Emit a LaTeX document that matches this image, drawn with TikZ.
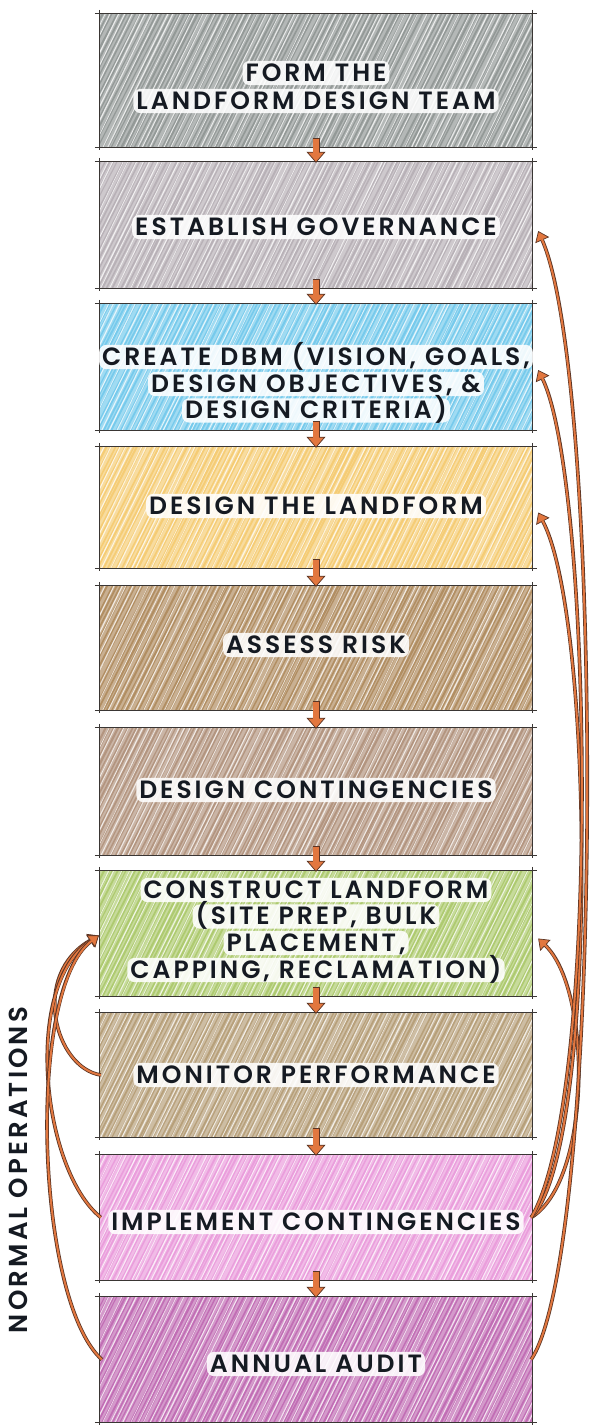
\documentclass[tikz,border=0pt]{standalone}
\usepackage{fontspec}
\usetikzlibrary{arrows.meta}
\newfontfamily\labfam{Poppins SemiBold}[LetterSpace=12]

\definecolor{ink}{HTML}{151A22}
\definecolor{edge}{HTML}{3A3634}
\definecolor{dk}{HTML}{5A3424}
\definecolor{org}{HTML}{E2773F}
\definecolor{c1}{HTML}{868C8A}
\definecolor{c2}{HTML}{B0A8AE}
\definecolor{c3}{HTML}{66C4EA}
\definecolor{c4}{HTML}{F4C664}
\definecolor{c5}{HTML}{A8804F}
\definecolor{c6}{HTML}{AA8870}
\definecolor{c7}{HTML}{A4C45E}
\definecolor{c8}{HTML}{AE946A}
\definecolor{c9}{HTML}{E892D8}
\definecolor{c10}{HTML}{BA5CAC}

\tikzset{
  box/.style={minimum width=432pt, inner sep=0pt, draw=none},
  % coloured-pencil shading: wash, fine diagonal strokes, white streaks
  pencil/.style={path picture={
    \fill[#1!62!white] (path picture bounding box.south west) rectangle (path picture bounding box.north east);
    \foreach \k in {0,...,112}{
      \pgfmathsetmacro\dx{\k*4.5-70+2*rnd}
      \pgfmathsetmacro\lw{1.1+1.1*rnd}
      \draw[#1, line width=\lw pt, opacity=0.7]
        ([xshift=\dx pt]path picture bounding box.south west) -- ++(63:160pt);
    }
    \foreach \k in {0,...,72}{
      \pgfmathsetmacro\dx{\k*7-70+4*rnd}
      \pgfmathsetmacro\lw{0.6+0.6*rnd}
      \draw[white, line width=\lw pt, opacity=0.75]
        ([xshift=\dx pt]path picture bounding box.south west) -- ++(64:160pt);
    }
  }},
  sketch/.style={draw=edge, line width=0.7pt},
  lettering/.style={text=ink, font=\labfam\fontsize{25}{26.5}\selectfont},
  % one line of lettering on a white glow
  lbl/.style={lettering, fill=white, fill opacity=0.88, text opacity=1,
    rounded corners=7pt, inner xsep=3pt, inner ysep=2.6pt,
    text height=17.5pt, text depth=1.5pt},
}

\newcommand\flowdown[2]{%
  \draw[dk, line width=7pt, -{Triangle[length=11pt,width=19pt,line width=0.7pt,fill=org]}]
    ([yshift=9pt]#1.south) -- ([yshift=-1pt]#2.north);
  \draw[org, line width=5.2pt, shorten >=10pt]
    ([yshift=8.6pt]#1.south) -- ([yshift=-1pt]#2.north);}

\newcommand\feedback[4]{%
  \draw[dk, line width=3.6pt, -{Triangle[length=10pt,width=15pt,line width=0.7pt,fill=org]}]
    #1 .. controls #2 and #3 .. #4;
  \draw[org, line width=2pt, shorten >=9pt]
    #1 .. controls #2 and #3 .. #4;}

\begin{document}
\begin{tikzpicture}[x=1pt, y=-1pt]
\pgfmathsetseed{4}
\useasboundingbox (0,0) rectangle (595,1425);
\fill[white] (0,0) rectangle (595,1425);

% process boxes
\node[box, pencil=c1,  minimum height=133pt] (b1)  at (316,80.5)  {};
\node[box, pencil=c2,  minimum height=126pt] (b2)  at (316,225)   {};
\node[box, pencil=c3,  minimum height=126pt] (b3)  at (316,367)   {};
\node[box, pencil=c4,  minimum height=121pt] (b4)  at (316,507.5) {};
\node[box, pencil=c5,  minimum height=124pt] (b5)  at (316,648)   {};
\node[box, pencil=c6,  minimum height=127pt] (b6)  at (316,791.5) {};
\node[box, pencil=c7,  minimum height=125pt] (b7)  at (316,933.5) {};
\node[box, pencil=c8,  minimum height=124pt] (b8)  at (316,1075)  {};
\node[box, pencil=c9,  minimum height=125pt] (b9)  at (316,1217.5){};
\node[box, pencil=c10, minimum height=125pt] (b10) at (316,1359.5){};

% pen outlines with overshooting corners
\foreach \i in {1,...,10}{
  \draw[sketch] ([xshift=-5pt]b\i.north west) -- ([xshift=5pt]b\i.north east);
  \draw[sketch] ([xshift=-5pt]b\i.south west) -- ([xshift=5pt]b\i.south east);
  \draw[sketch] ([yshift=4pt]b\i.north west) -- ([yshift=-3pt]b\i.south west);
  \draw[sketch] ([yshift=4pt]b\i.north east) -- ([yshift=-3pt]b\i.south east);
}

% labels, one node per line
\node[lbl] (t1a) at (316,73)   {FORM THE};
\node[lbl] (t1b) at (316,101)  {LANDFORM DESIGN TEAM};
\node[lbl] (t2)  at (316,227)  {ESTABLISH GOVERNANCE};
\node[lbl] (t3a) at (316,357)  {CREATE DBM (VISION, GOALS,};
\node[lbl] (t3b) at (316,384)  {DESIGN OBJECTIVES, \&};
\node[lbl] (t3c) at (316,410.5){DESIGN CRITERIA)};
\node[lbl] (t4)  at (316,506)  {DESIGN THE LANDFORM};
\node[lbl] (t5)  at (316,645)  {ASSESS RISK};
\node[lbl] (t6)  at (316,790)  {DESIGN CONTINGENCIES};
\node[lbl] (t7a) at (316,890)  {CONSTRUCT LANDFORM};
\node[lbl] (t7b) at (316,916.5){(SITE PREP, BULK};
\node[lbl] (t7c) at (316,943)  {PLACEMENT,};
\node[lbl] (t7d) at (316,970)  {CAPPING, RECLAMATION)};
\node[lbl] (t8)  at (316,1075) {MONITOR PERFORMANCE};
\node[lbl] (t9)  at (316,1222) {IMPLEMENT CONTINGENCIES};
\node[lbl] (t10) at (316,1364) {ANNUAL AUDIT};

\node[lettering, rotate=90, inner sep=0pt, font=\labfam\fontsize{26}{28}\selectfont] (ops) at (18,1170) {NORMAL OPERATIONS};

% sequence arrows
\flowdown{b1}{b2}
\flowdown{b2}{b3}
\flowdown{b3}{b4}
\flowdown{b4}{b5}
\flowdown{b5}{b6}
\flowdown{b6}{b7}
\flowdown{b7}{b8}
\flowdown{b8}{b9}
\flowdown{b9}{b10}

% normal operations loop (left)
\feedback{([xshift=1pt]b8.west)}{(55,1068)}{(30,975)}{([shift={(-1pt,-2pt)}]b7.west)}
\feedback{([xshift=1pt]b9.west)}{(42,1170)}{(22,985)}{([shift={(-1pt,-2pt)}]b7.west)}
\feedback{([xshift=2pt]b10.west)}{(36,1300)}{(26,990)}{([shift={(-1pt,-2pt)}]b7.west)}

% contingency loops (right)
\feedback{([xshift=-1pt]b9.east)}{(592,1180)}{(592,990)}{([shift={(6pt,-5pt)}]b7.east)}
\feedback{([xshift=-1pt]b9.east)}{(598,1150)}{(595,620)}{([shift={(6pt,-5pt)}]b4.east)}
\feedback{([xshift=-1pt]b9.east)}{(602,1100)}{(592,480)}{([shift={(6pt,-3pt)}]b3.east)}
\feedback{([xshift=-1pt]b10.east)}{(604,1250)}{(604,380)}{([shift={(6pt,-6pt)}]b2.east)}
\end{tikzpicture}
\end{document}
